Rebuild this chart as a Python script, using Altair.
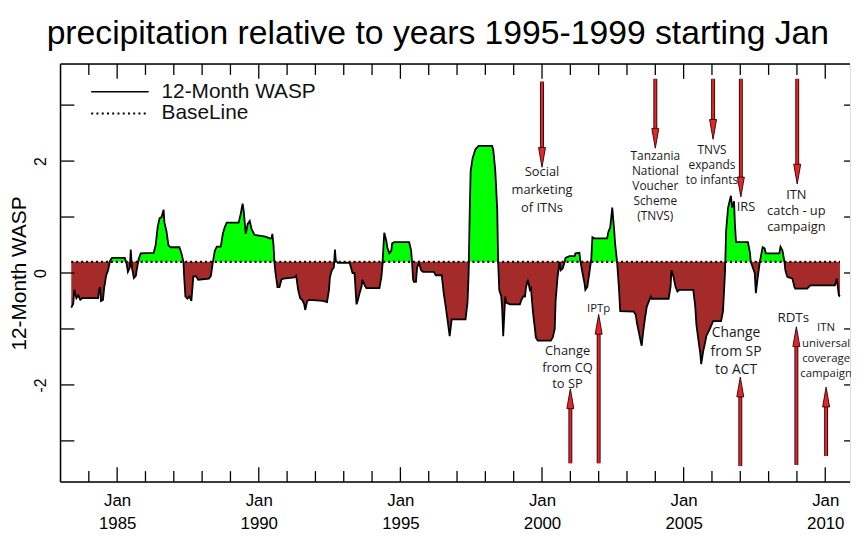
import altair as alt
import pandas as pd

TITLE = "precipitation relative to years 1995-1999 starting Jan"
SERIES_NAME = "12-Month WASP"
BASE_NAME = "BaseLine"
BASELINE = 0.2

years = [
    1983.38, 1983.45, 1983.49, 1983.56, 1983.63, 1983.70, 1983.77, 1984.33, 1984.36, 1984.40,
    1984.43, 1984.50, 1984.54, 1984.61, 1984.68, 1984.75, 1984.82, 1985.27, 1985.34, 1985.38,
    1985.45, 1985.48, 1985.52, 1985.59, 1985.66, 1985.69, 1985.76, 1985.83, 1986.29, 1986.36,
    1986.43, 1986.50, 1986.57, 1986.64, 1986.67, 1986.74, 1986.81, 1986.88, 1987.20, 1987.27,
    1987.34, 1987.37, 1987.41, 1987.48, 1987.55, 1987.62, 1987.69, 1987.79, 1987.86, 1988.24,
    1988.31, 1988.38, 1988.45, 1988.52, 1988.66, 1988.73, 1988.80, 1988.87, 1989.29, 1989.36,
    1989.43, 1989.47, 1989.54, 1989.61, 1989.68, 1989.75, 1989.85, 1990.24, 1990.38, 1990.45,
    1990.48, 1990.52, 1990.55, 1990.59, 1990.66, 1990.73, 1990.80, 1990.87, 1991.25, 1991.32,
    1991.39, 1991.46, 1991.53, 1991.60, 1991.64, 1991.71, 1991.78, 1992.27, 1992.41, 1992.48,
    1992.51, 1992.58, 1992.65, 1992.69, 1992.72, 1992.79, 1993.21, 1993.31, 1993.38, 1993.45,
    1993.49, 1993.56, 1993.63, 1993.66, 1993.73, 1993.80, 1994.26, 1994.33, 1994.36, 1994.43,
    1994.50, 1994.54, 1994.61, 1994.68, 1994.71, 1994.78, 1995.31, 1995.38, 1995.41, 1995.45,
    1995.48, 1995.55, 1995.59, 1995.66, 1995.73, 1995.80, 1996.18, 1996.25, 1996.46, 1996.53,
    1996.60, 1996.67, 1996.74, 1996.81, 1997.30, 1997.37, 1997.41, 1997.44, 1997.48, 1997.55,
    1997.65, 1997.76, 1998.24, 1998.28, 1998.35, 1998.42, 1998.45, 1998.49, 1998.56, 1998.59,
    1998.63, 1998.70, 1998.73, 1998.87, 1999.22, 1999.26, 1999.33, 1999.40, 1999.43, 1999.50,
    1999.57, 1999.61, 1999.68, 1999.75, 1999.78, 1999.85, 2000.31, 2000.38, 2000.45, 2000.48,
    2000.55, 2000.62, 2000.66, 2000.73, 2000.80, 2000.83, 2000.97, 2001.15, 2001.18, 2001.32,
    2001.36, 2001.43, 2001.50, 2001.53, 2001.60, 2001.67, 2001.74, 2001.78, 2001.85, 2002.30,
    2002.34, 2002.41, 2002.48, 2002.55, 2002.58, 2002.65, 2002.72, 2002.76, 2003.24, 2003.31,
    2003.35, 2003.42, 2003.49, 2003.52, 2003.56, 2003.63, 2003.70, 2003.84, 2003.87, 2004.47,
    2004.54, 2004.57, 2004.64, 2004.71, 2004.78, 2004.85, 2005.34, 2005.41, 2005.45, 2005.52,
    2005.59, 2005.62, 2005.69, 2005.76, 2005.80, 2005.94, 2006.04, 2006.32, 2006.39, 2006.46,
    2006.50, 2006.57, 2006.64, 2006.67, 2006.71, 2006.78, 2006.81, 2006.85, 2007.27, 2007.34,
    2007.37, 2007.44, 2007.51, 2007.55, 2007.62, 2007.69, 2007.79, 2007.86, 2007.90, 2008.38,
    2008.42, 2008.49, 2008.56, 2008.59, 2008.66, 2008.84, 2008.91, 2008.94, 2009.36, 2009.47,
    2009.61, 2010.34, 2010.41, 2010.48, 2010.52,
]

wasp = [
    -0.62, -0.55, -0.30, -0.45, -0.40, -0.48, -0.45, -0.45, -0.30, -0.25,
    -0.50, -0.48, -0.27, -0.05, 0.05, 0.22, 0.27, 0.27, 0.15, 0.02,
    0.10, 0.42, 0.10, -0.09, -0.05, 0.05, 0.25, 0.35, 0.36, 0.50,
    0.82, 0.98, 1.00, 1.13, 0.90, 0.75, 0.50, 0.46, 0.46, 0.35,
    0.20, -0.10, -0.42, -0.46, -0.42, -0.50, -0.06, -0.06, -0.12, -0.10,
    -0.05, 0.20, 0.40, 0.47, 0.47, 0.70, 0.82, 0.90, 0.90, 1.05,
    1.24, 1.10, 0.70, 0.88, 0.93, 0.78, 0.68, 0.65, 0.62, 0.62,
    0.70, 0.50, 0.20, 0.00, -0.25, -0.25, -0.12, -0.10, -0.08, -0.05,
    -0.30, -0.45, -0.48, -0.55, -0.66, -0.50, -0.48, -0.50, -0.52, -0.30,
    -0.08, 0.05, 0.10, 0.42, 0.22, 0.18, 0.18, 0.00, 0.00, -0.56,
    -0.50, -0.36, -0.24, -0.12, -0.21, -0.27, -0.27, -0.07, 0.10, 0.72,
    0.58, 0.45, 0.35, 0.40, 0.53, 0.55, 0.55, 0.40, 0.20, -0.12,
    -0.16, -0.16, 0.10, 0.18, 0.05, 0.02, 0.02, -0.04, -0.04, -0.36,
    -0.60, -0.86, -1.13, -0.83, -0.83, -0.53, 0.00, 0.90, 1.82, 2.05,
    2.21, 2.27, 2.27, 2.20, 1.83, 1.12, 0.20, -0.30, -0.42, -0.60,
    -1.13, -0.42, -0.53, -0.56, -0.56, -0.50, -0.42, -0.42, -0.27, -0.12,
    -0.30, -0.27, -0.70, -1.00, -1.15, -1.21, -1.21, -1.15, -1.00, -0.50,
    -0.07, 0.20, 0.05, 0.08, 0.20, 0.27, 0.30, 0.30, 0.35, 0.36,
    0.20, 0.00, -0.18, -0.30, -0.25, 0.00, 0.25, 0.64, 0.62, 0.62,
    0.73, 0.82, 1.17, 0.75, 0.53, 0.20, -0.30, -0.68, -0.69, -0.75,
    -0.89, -1.06, -1.24, -1.30, -1.10, -0.83, -0.60, -0.42, -0.46, -0.46,
    -0.24, 0.05, -0.06, -0.24, -0.33, -0.30, -0.30, -0.60, -0.92, -1.19,
    -1.45, -1.63, -1.40, -1.24, -1.13, -0.98, -0.86, -0.86, -0.69, 0.00,
    0.76, 1.17, 1.32, 1.38, 1.17, 1.28, 0.88, 0.55, 0.55, 0.37,
    0.20, 0.10, 0.00, -0.36, -0.06, 0.20, 0.46, 0.44, 0.35, 0.35,
    0.47, 0.40, 0.20, 0.05, -0.07, -0.10, -0.25, -0.28, -0.28, -0.22,
    -0.22, -0.22, -0.10, -0.40, -0.42,
]

x_ticks_minor = [y for y in range(1984, 2011) if y % 5 != 0]
x_ticks_major = [1985, 1990, 1995, 2000, 2005, 2010]
y_ticks = [-3, -2, -1, 0, 1, 2, 3]
y_labels = [-2, 0, 2]

# arrows: year, start value, tip value
arrow_year = [2000.0, 2004.0, 2006.04, 2007.02, 2009.01, 2001.0, 2002.0, 2007.0, 2008.98, 2010.03]
arrow_from = [3.42, 3.47, 3.47, 3.47, 3.47, -3.40, -3.40, -3.45, -3.43, -3.27]
arrow_to = [1.89, 2.23, 2.39, 1.36, 1.59, -2.07, -0.74, -1.86, -0.96, -2.04]

# annotation texts: lines, year, first-line value, line step, font size
notes = [
    (["Social", "marketing", "of ITNs"], 2000.0, 1.805, 0.319, 13),
    (["Tanzania", "National", "Voucher", "Scheme", "(TNVS)"], 2004.0, 2.088, 0.2655, 12),
    (["TNVS", "expands", "to infants"], 2006.0, 2.195, 0.2655, 12),
    (["IRS"], 2007.2, 1.186, 0.0, 13),
    (["ITN", "catch - up", "campaign"], 2008.98, 1.398, 0.292, 13),
    (["Change", "from CQ", "to SP"], 2000.9, -1.398, 0.292, 13),
    (["IPTp"], 2002.0, -0.637, 0.0, 11.5),
    (["Change", "from SP", "to ACT"], 2006.85, -1.08, 0.327, 14),
    (["RDTs"], 2008.87, -0.796, 0.0, 13.5),
    (["ITN", "universal", "coverage", "campaign"], 2010.03, -0.991, 0.271, 11.5),
]

W, H = 797, 422
X_DOMAIN = [1983.0, 2010.874]
Y_DOMAIN = [-3.735, 3.735]
PX_PER_UNIT = H / (Y_DOMAIN[1] - Y_DOMAIN[0])
HEAD_LEN = 16 / PX_PER_UNIT

AX_FONT = "Liberation Sans Narrow, Liberation Sans, Arial, sans-serif"
TXT_FONT = "Liberation Sans, Arial, sans-serif"
NOTE_FONT = "Open Sans, Noto Sans, sans-serif"
RED = "#e3262c"
DARK = "#3d0b0b"

df = pd.DataFrame({"year": years, "wasp": wasp})
df["above"] = df["wasp"].clip(lower=BASELINE)
df["below"] = df["wasp"].clip(upper=BASELINE)
df["base"] = BASELINE

base_df = pd.DataFrame({"year": [years[0], years[-1]], "wasp": [BASELINE, BASELINE]})

arrows = pd.DataFrame({"year": arrow_year, "y0": arrow_from, "y1": arrow_to})
arrows["dir"] = ["down" if a > b else "up" for a, b in zip(arrow_from, arrow_to)]
arrows["yb"] = [b + HEAD_LEN if a > b else b - HEAD_LEN for a, b in zip(arrow_from, arrow_to)]

rows = []
for lines, yr, v0, step, size in notes:
    for i, t in enumerate(lines):
        rows.append({"text": t, "year": yr, "v": v0 - i * step, "size": size})
notes_df = pd.DataFrame(rows)

one = pd.DataFrame({"k": [0]})

xs = alt.Scale(domain=X_DOMAIN, nice=False, zero=False)
ys = alt.Scale(domain=Y_DOMAIN, nice=False, zero=False)

x_axis = alt.Axis(
    values=x_ticks_major, labelExpr="['Jan', '' + datum.value]", tickSize=0, domain=False,
    grid=False, ticks=False, labelPadding=11, labelFontSize=17, labelFont=AX_FONT,
    labelColor="black", labelLineHeight=23, labelBaseline="top", labelOverlap=False,
    labelFlush=False, labelBound=False, title=None,
)
y_axis = alt.Axis(
    values=y_labels, labelExpr="'' + datum.value", labelAngle=270, labelAlign="center",
    labelBaseline="bottom", tickSize=0, ticks=False, domain=False, grid=False, labelPadding=12,
    labelFontSize=16, labelFont=AX_FONT, labelColor="black", labelOverlap=False,
    labelFlush=False, title=SERIES_NAME, titleX=-41, titleY=H / 2, titleAngle=270,
    titleAlign="center", titleBaseline="middle", titleFontSize=21,
    titleFontWeight="normal", titleFont=TXT_FONT, titleColor="black",
)

X = alt.X("year:Q", scale=xs, axis=x_axis, title=None)


def Y(field):
    return alt.Y(field, scale=ys, axis=y_axis, title=SERIES_NAME)


green = alt.Chart(df).mark_area(color="#00ff00", opacity=1).encode(
    x=X, y=Y("above:Q"), y2="base:Q")
brown = alt.Chart(df).mark_area(color="#a52a2a", opacity=1).encode(
    x=X, y=Y("below:Q"), y2="base:Q")
line = alt.Chart(df).mark_line(color="black", strokeWidth=1.8).encode(
    x=X, y=Y("wasp:Q"))
baseline = alt.Chart(base_df).mark_line(color="black", strokeWidth=2.2, strokeDash=[2, 3]).encode(
    x=X, y=Y("wasp:Q"))

xmin_df = pd.DataFrame({"year": x_ticks_minor})
xmaj_df = pd.DataFrame({"year": x_ticks_major})
yt_df = pd.DataFrame({"wasp": y_ticks})

tick_layers = [
    alt.Chart(xmin_df).mark_rule(color="black", strokeWidth=1.3).encode(
        x=X, y=alt.value(H), y2=alt.value(H - 11)),
    alt.Chart(xmaj_df).mark_rule(color="black", strokeWidth=1.3).encode(
        x=X, y=alt.value(H), y2=alt.value(H - 15)),
    alt.Chart(xmin_df).mark_rule(color="black", strokeWidth=1.3).encode(
        x=X, y=alt.value(0), y2=alt.value(11)),
    alt.Chart(xmaj_df).mark_rule(color="black", strokeWidth=1.3).encode(
        x=X, y=alt.value(0), y2=alt.value(15)),
    alt.Chart(yt_df).mark_rule(color="black", strokeWidth=1.3).encode(
        y=Y("wasp:Q"), x=alt.value(0), x2=alt.value(14)),
    alt.Chart(yt_df).mark_rule(color="black", strokeWidth=1.3).encode(
        y=Y("wasp:Q"), x=alt.value(W - 6), x2=alt.value(W)),
]

frame_layers = [
    alt.Chart(one).mark_rule(color="black", strokeWidth=1.5).encode(
        x=alt.value(0), y=alt.value(0), y2=alt.value(H)),
    alt.Chart(one).mark_rule(color="black", strokeWidth=1.5).encode(
        x=alt.value(0), x2=alt.value(W), y=alt.value(0)),
    alt.Chart(one).mark_rule(color="black", strokeWidth=1.5).encode(
        x=alt.value(0), x2=alt.value(W), y=alt.value(H)),
]

shaft_outer = alt.Chart(arrows).mark_rule(color=DARK, strokeWidth=4).encode(
    x=X, y=Y("y0:Q"), y2="yb:Q")
shaft_inner = alt.Chart(arrows).mark_rule(color=RED, strokeWidth=2).encode(
    x=X, y=Y("y0:Q"), y2="yb:Q")
head_down = alt.Chart(arrows).transform_filter("datum.dir == 'down'").mark_point(
    shape="M-0.35,-2L0.35,-2L0,0Z", filled=True, fill=RED, stroke=DARK, strokeWidth=1,
    size=400, opacity=1).encode(x=X, y=Y("y1:Q"))
head_up = alt.Chart(arrows).transform_filter("datum.dir == 'up'").mark_point(
    shape="M-0.35,2L0.35,2L0,0Z", filled=True, fill=RED, stroke=DARK, strokeWidth=1,
    size=400, opacity=1).encode(x=X, y=Y("y1:Q"))

note_text = alt.Chart(notes_df).mark_text(
    font=NOTE_FONT, color="#1a1a1a", align="center", baseline="middle").encode(
    x=X, y=Y("v:Q"), text="text:N",
    size=alt.Size("size:Q", scale=None, legend=None),
)

legend_layers = [
    alt.Chart(one).mark_rule(color="black", strokeWidth=1.6).encode(
        x=alt.value(31), x2=alt.value(89), y=alt.value(28)),
    alt.Chart(one).mark_rule(color="black", strokeWidth=2.2, strokeDash=[2, 3.3]).encode(
        x=alt.value(31), x2=alt.value(89), y=alt.value(50)),
    alt.Chart(one).mark_text(text=SERIES_NAME, font=TXT_FONT, fontSize=21, color="#111",
                             align="left", baseline="middle").encode(
        x=alt.value(102), y=alt.value(28)),
    alt.Chart(one).mark_text(text=BASE_NAME, font=TXT_FONT, fontSize=21, color="#111",
                             align="left", baseline="middle").encode(
        x=alt.value(102), y=alt.value(50)),
]

title = alt.Chart(one).mark_text(text=TITLE, font=TXT_FONT, fontSize=34, color="black",
                                 align="left", baseline="middle").encode(
    x=alt.value(-14), y=alt.value(-30))

chart = alt.layer(
    green, brown, line, baseline, *tick_layers, *frame_layers,
    shaft_outer, shaft_inner, head_down, head_up, note_text, *legend_layers, title,
).properties(
    width=W, height=H,
    autosize=alt.AutoSizeParams(type="none"),
    padding={"left": 53, "top": 54, "right": 1, "bottom": 54},
).configure_view(stroke=None).configure(background="white")

chart.save("out.html", embed_options={"renderer": "svg", "actions": False})
